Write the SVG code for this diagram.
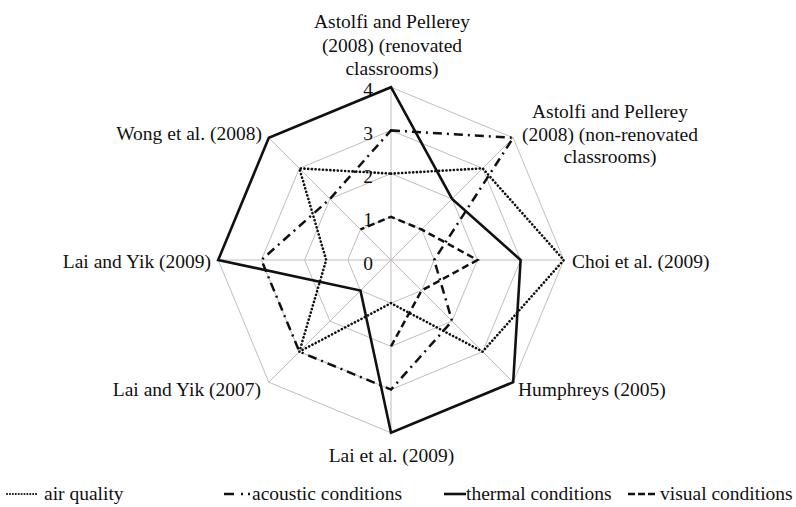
<svg xmlns="http://www.w3.org/2000/svg" width="796" height="507" viewBox="0 0 796 507">
<style>
text{font-family:"Liberation Serif","Times New Roman",serif;font-size:19.5px;fill:#111}
.grid{fill:none;stroke:#c4bcbc;stroke-width:1}
.air{fill:none;stroke:#111;stroke-width:2.6;stroke-dasharray:0.1 3.6;stroke-linecap:round;stroke-linejoin:round}
.aco{fill:none;stroke:#111;stroke-width:2.5;stroke-dasharray:9 5 2 5}
.the{fill:none;stroke:#111;stroke-width:2.6;stroke-linejoin:miter}
.vis{fill:none;stroke:#111;stroke-width:2.5;stroke-dasharray:7 4}
.e{text-anchor:end}
.m{text-anchor:middle}
</style>
<rect width="796" height="507" fill="#ffffff"/>
<g id="grid">
<polygon class="grid" points="391,216.8 421.55,229.45 434.2,260 421.55,290.55 391,303.2 360.45,290.55 347.8,260 360.45,229.45"/>
<polygon class="grid" points="391,173.6 452.09,198.91 477.4,260 452.09,321.09 391,346.4 329.91,321.09 304.6,260 329.91,198.91"/>
<polygon class="grid" points="391,130.4 482.64,168.36 520.6,260 482.64,351.64 391,389.6 299.36,351.64 261.4,260 299.36,168.36"/>
<polygon class="grid" points="391,87.2 513.19,137.81 563.8,260 513.19,382.19 391,432.8 268.81,382.19 218.2,260 268.81,137.81"/>
<path class="grid" d="M391,260V87.2M391,260L513.19,137.81M391,260H563.8M391,260L513.19,382.19M391,260V432.8M391,260L268.81,382.19M391,260H218.2M391,260L268.81,137.81"/>
</g>
<g id="scale">
<text class="e" x="373" y="96">4</text>
<text class="e" x="373" y="140">3</text>
<text class="e" x="373" y="183">2</text>
<text class="e" x="373" y="226">1</text>
<text class="e" x="373" y="270">0</text>
</g>
<g id="connectors">
<polygon id="air-quality" class="air" points="391,173.6 482.64,168.36 563.8,260 482.64,351.64 391,303.2 299.36,351.64 326.2,260 299.36,168.36"/>
<polygon id="acoustic" class="aco" points="391,130.4 513.19,137.81 434.2,260 452.09,321.09 391,389.6 299.36,351.64 261.4,260 329.91,198.91"/>
<polygon id="thermal" class="the" points="391,87.2 452.09,198.91 520.6,260 513.19,382.19 391,432.8 360.45,290.55 218.2,260 268.81,137.81"/>
<polyline id="visual" class="vis" points="391,346.4 421.55,290.55 477.4,260 421.55,229.45 391,216.8 360.45,229.45"/>
</g>
<g id="node-astolfi-renovated">
<text class="m" x="392" y="28">Astolfi and Pellerey</text>
<text class="m" x="392" y="51.5">(2008) (renovated</text>
<text class="m" x="392" y="75">classrooms)</text>
</g>
<g id="node-astolfi-nonrenovated">
<text class="m" x="610" y="118">Astolfi and Pellerey</text>
<text class="m" x="610" y="140.5">(2008) (non-renovated</text>
<text class="m" x="610" y="163">classrooms)</text>
</g>
<g id="node-choi"><text x="572" y="268">Choi et al. (2009)</text></g>
<g id="node-humphreys"><text x="518" y="396">Humphreys (2005)</text></g>
<g id="node-lai-2009"><text class="m" x="391.5" y="462">Lai et al. (2009)</text></g>
<g id="node-laiyik-2007"><text class="e" x="261" y="396">Lai and Yik (2007)</text></g>
<g id="node-laiyik-2009"><text class="e" x="211" y="268">Lai and Yik (2009)</text></g>
<g id="node-wong"><text class="e" x="262" y="140">Wong et al. (2008)</text></g>
<g id="legend">
<line x1="7" y1="494" x2="38" y2="494" stroke="#111" stroke-width="2" stroke-dasharray="0.1 2.8" stroke-linecap="round"/>
<text x="44" y="500">air quality</text>
<path d="M224,494h10M241,494h2M248,494h2" stroke="#111" stroke-width="2.5" fill="none"/>
<text x="252" y="500">acoustic conditions</text>
<line x1="444" y1="494" x2="466" y2="494" stroke="#111" stroke-width="2.6"/>
<text x="466" y="500">thermal conditions</text>
<path d="M628,494h7M638,494h7M648,494h7" stroke="#111" stroke-width="2.5" fill="none"/>
<text x="660" y="500">visual conditions</text>
</g>
</svg>
